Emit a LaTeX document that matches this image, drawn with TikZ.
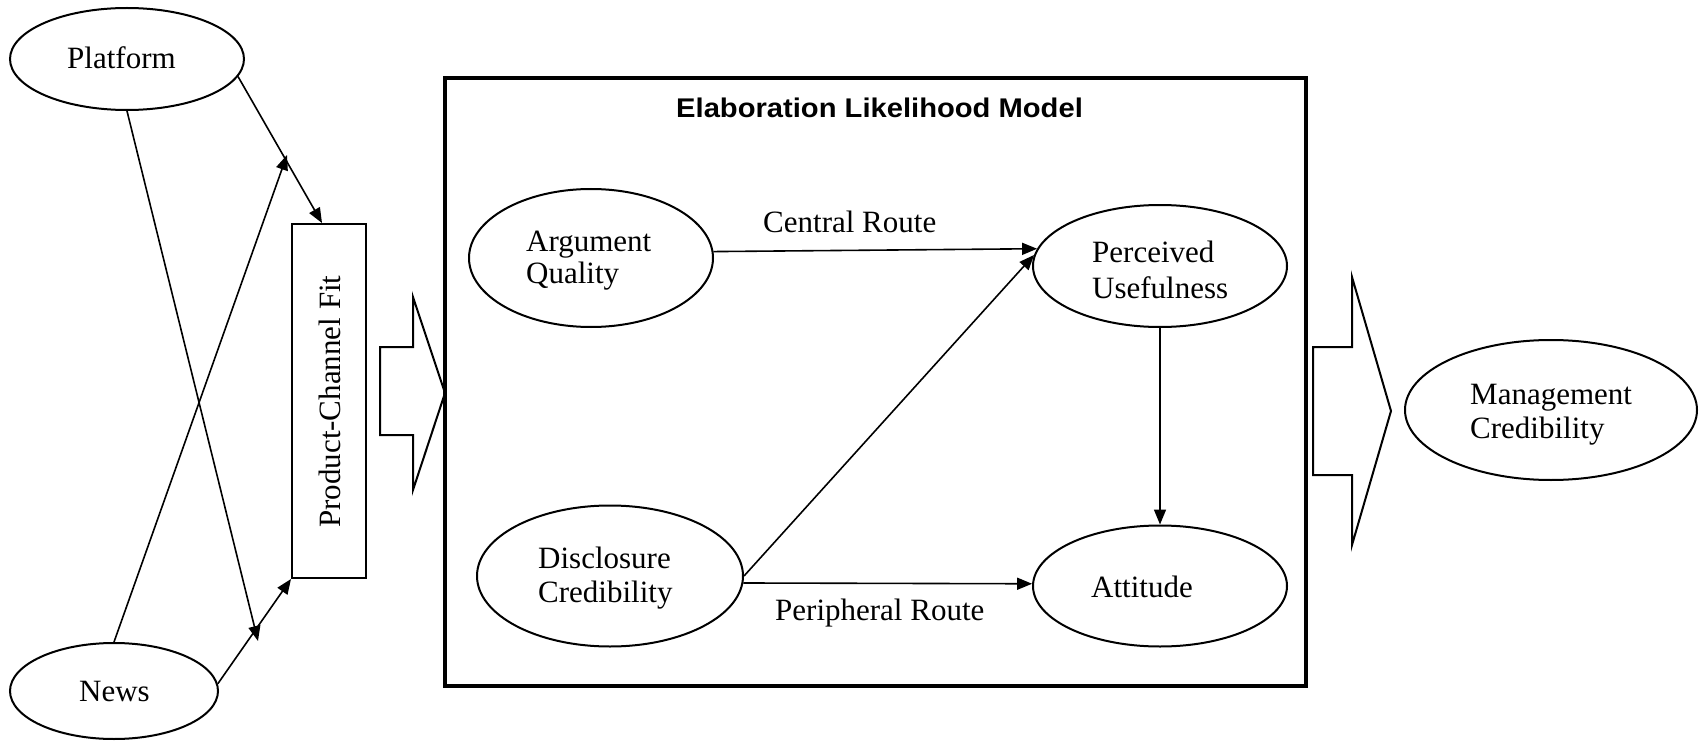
\documentclass[tikz,border=0pt]{standalone}
\usepackage{fontspec}
\setmainfont{Liberation Serif}
\newfontfamily\titlefont[FakeStretch=1.08]{Liberation Sans}
\usetikzlibrary{arrows.meta,shapes.geometric}
\begin{document}
\begin{tikzpicture}[x=1pt,y=-1pt,
  oval/.style={draw,line width=2pt,ellipse,inner sep=0pt},
  lbl/.style={inner sep=0pt,anchor=base west,font=\fontsize{31}{35}\selectfont},
  conn/.style={line width=1.6pt,-{Triangle[length=15pt,width=12pt]}},
  blockarrow/.style={draw,line width=2pt,line join=miter,fill=white}]
\useasboundingbox (0,0) rectangle (1701,741);

% left side
\node[oval,minimum width=234pt,minimum height=102pt] (plat) at (127,59) {};
\node[lbl] (platT) at (67,69) {Platform};
\node[oval,minimum width=208pt,minimum height=96pt] (news) at (114,691) {};
\node[lbl] (newsT) at (79,701) {News};
\node[draw,line width=2pt,minimum width=74pt,minimum height=354pt,inner sep=0pt] (pcf) at (329,401) {};
\node[lbl,rotate=90] (pcfT) at (340,528) {Product-Channel Fit};

\coordinate (pend) at (258,641);
\coordinate (nend) at (287,155);
\draw[conn] (plat.-9) -- ([xshift=-7pt]pcf.north);
\draw[conn] (plat.south) -- (pend);
\draw[conn] (news.north) -- (nend);
\draw[conn] (news.4) -- (pcf.south west);

% left block arrow
\draw[blockarrow] (380,347) -- (413,347) -- (413,297) -- (445,393) -- (413,490) -- (413,435) -- (380,435) -- cycle;

% ELM box
\node[draw,line width=4pt,minimum width=861pt,minimum height=608pt,inner sep=0pt] (elm) at (875.5,382) {};
\node[inner sep=0pt,anchor=base west,font=\titlefont\bfseries\fontsize{27}{30}\selectfont] (title) at (676,118) {Elaboration Likelihood Model};

\node[oval,minimum width=244pt,minimum height=138pt] (aq) at (591,258) {};
\node[lbl] (aq1) at (526,251) {Argument};
\node[lbl] (aq2) at (526,283) {Quality};

\node[oval,minimum width=266pt,minimum height=141pt] (dc) at (610,576) {};
\node[lbl] (dc1) at (538,568) {Disclosure};
\node[lbl] (dc2) at (538,602) {Credibility};

\node[oval,minimum width=254pt,minimum height=122pt] (pu) at (1160,266) {};
\node[lbl] (pu1) at (1092,262) {Perceived};
\node[lbl] (pu2) at (1092,298) {Usefulness};

\node[oval,minimum width=254pt,minimum height=121pt] (att) at (1160,586) {};
\node[lbl] (attT) at (1091,597) {Attitude};

\draw[conn] (aq.3.8) -- (pu.172.6);
\node[lbl] (cr) at (763,233) {Central Route};
\draw[conn] (dc.east) -- (pu.175);
\draw[conn] (dc.-3.4) -- (att.179);
\node[lbl] (pr) at (775,620) {Peripheral Route};
\draw[conn] (pu.south) -- (att.north);

% right block arrow
\draw[blockarrow] (1313,347) -- (1352,347) -- (1352,277) -- (1391,411) -- (1352,545) -- (1352,475) -- (1313,475) -- cycle;

\node[oval,minimum width=292pt,minimum height=140pt] (mc) at (1551,410) {};
\node[lbl] (mc1) at (1470,404) {Management};
\node[lbl] (mc2) at (1470,438) {Credibility};
\end{tikzpicture}
\end{document}
